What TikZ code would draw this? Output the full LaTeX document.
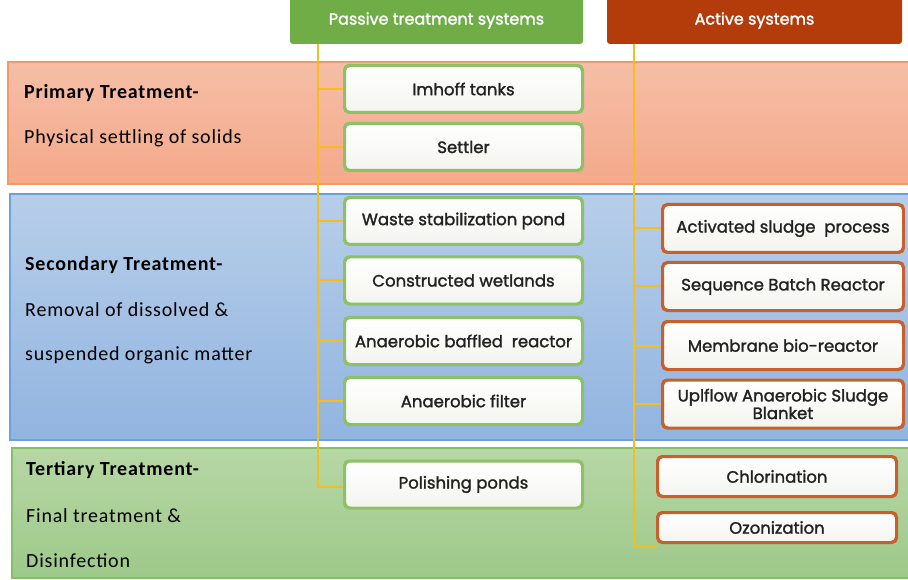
\documentclass[tikz,border=0pt]{standalone}
\usepackage{fontspec}
\setmainfont{Carlito}[LetterSpace=4]
\newfontfamily\boxfont{Poppins}[FakeBold=1.6]
\usetikzlibrary{calc}

\definecolor{passiveGreen}{HTML}{70AD47}
\definecolor{activeRed}{HTML}{B33C0A}
\definecolor{spineGold}{HTML}{F5BE1E}
\definecolor{boxText}{HTML}{222222}
\definecolor{pEdge}{HTML}{8CC168}
\definecolor{aEdge}{HTML}{C8602E}
\definecolor{boxFill}{HTML}{F4F4EF}
\definecolor{priTop}{HTML}{F5BEA7}
\definecolor{priBot}{HTML}{F4A98A}
\definecolor{priEdge}{HTML}{F19A62}
\definecolor{secTop}{HTML}{B7CEE9}
\definecolor{secBot}{HTML}{91B4E0}
\definecolor{secEdge}{HTML}{6D9FDB}
\definecolor{terTop}{HTML}{B7D7A5}
\definecolor{terBot}{HTML}{9DC98A}
\definecolor{terEdge}{HTML}{86BF6A}

\tikzset{
  band/.style={line width=1.5pt},
  header/.style={rounded corners=3pt, text=white,
    font=\boxfont\fontsize{16}{17}\selectfont, inner sep=0pt},
  sysbox/.style={rounded corners=5pt, line width=2pt, top color=white, bottom color=boxFill,
    text=boxText, font=\boxfont\fontsize{16.5}{17}\selectfont, inner sep=0pt, align=center},
  pbox/.style={sysbox, draw=pEdge, minimum width=237pt, minimum height=46pt},
  abox/.style={sysbox, draw=aEdge, minimum width=240pt, minimum height=47pt},
  conn/.style={draw=spineGold, line width=2pt},
  stage/.style={anchor=west, inner sep=0pt, text=black, font=\fontsize{20}{22}\selectfont},
  stagehead/.style={stage, font=\bfseries\fontsize{20}{22}\selectfont},
}

\begin{document}
\begin{tikzpicture}[x=1pt, y=-1pt]
\useasboundingbox (0,0) rectangle (908,580);
\begin{scope}
\clip (0,0) rectangle (908,580);

% treatment stages as horizontal bands
\draw[band, draw=priEdge, top color=priTop, bottom color=priBot] (8,62) rectangle (912,184);
\draw[band, draw=secEdge, top color=secTop, bottom color=secBot] (10,194) rectangle (912,440);
\draw[band, draw=terEdge, top color=terTop, bottom color=terBot] (12,448) rectangle (912,578);

% stage descriptions
\node[stagehead] (priH) at (24,93) {Primary Treatment-};
\node[stage] (priT) at (24,138) {Physical settling of solids};
\node[stagehead] (secH) at (25,265) {Secondary Treatment-};
\node[stage] (secT1) at (25,310) {Removal of dissolved \&};
\node[stage] (secT2) at (25,355) {suspended organic matter};
\node[stagehead] (terH) at (26,470) {Tertiary Treatment-};
\node[stage] (terT1) at (26,516) {Final treatment \&};
\node[stage] (terT2) at (26,561) {Disinfection};

% column headers
\node[header, fill=passiveGreen, minimum width=293pt, minimum height=47pt] (passive) at (436.5,20.5) {Passive treatment systems};
\node[header, fill=activeRed, minimum width=295pt, minimum height=47pt] (active) at (754.5,20.5) {Active systems};
\end{scope}

% spine coordinates
\coordinate (pTop) at (318,44);
\coordinate (aTop) at (634,44);

% passive systems
\node[pbox] (imhoff) at (463.5,89) {Imhoff tanks};
\node[pbox] (settler) at (463.5,147) {Settler};
\node[pbox] (wsp) at (463.5,221) {Waste stabilization pond};
\node[pbox] (cw) at (463.5,280.5) {Constructed wetlands};
\node[pbox] (abr) at (463.5,341) {Anaerobic baffled\ \ reactor};
\node[pbox] (af) at (463.5,401) {Anaerobic filter};
\node[pbox] (polish) at (463.5,484.5) {Polishing ponds};

% active systems
\node[abox] (asp) at (783,228.5) {Activated sludge\ \ process};
\node[abox] (sbr) at (783,286.5) {Sequence Batch Reactor};
\node[abox] (mbr) at (783,345.5) {Membrane bio-reactor};
\node[abox, font=\boxfont\fontsize{16.5}{16}\selectfont] (uasb) at (783,404) {Uplflow Anaerobic Sludge\\Blanket};
\node[abox, minimum width=238pt, minimum height=39pt] (chl) at (777,476.5) {Chlorination};
\node[abox, minimum width=238pt, minimum height=29pt] (oz) at (777,527.5) {Ozonization};

% passive connectors
\draw[conn] (pTop) |- ($(polish.west)+(0,2.5)$);
\foreach \b in {imhoff,settler,wsp,cw,abr,af}
  \draw[conn] (\b.west -| pTop) -- (\b.west);
% active connectors
\draw[conn] (aTop) |- ($(oz.south west)+(0,4)$);
\foreach \b in {asp,sbr,mbr,uasb}
  \draw[conn] (\b.west -| aTop) -- (\b.west);
\draw[conn] ($(chl.south west)+(0,-5)$ -| aTop) -- ($(chl.south west)+(0,-5)$);

% box outlines over the connector ends
\foreach \b in {imhoff,settler,wsp,cw,abr,af,polish}
  \draw[pEdge, line width=2pt, rounded corners=5pt] (\b.north west) rectangle (\b.south east);
\foreach \b in {asp,sbr,mbr,uasb,chl,oz}
  \draw[aEdge, line width=2pt, rounded corners=5pt] (\b.north west) rectangle (\b.south east);
\end{tikzpicture}
\end{document}
